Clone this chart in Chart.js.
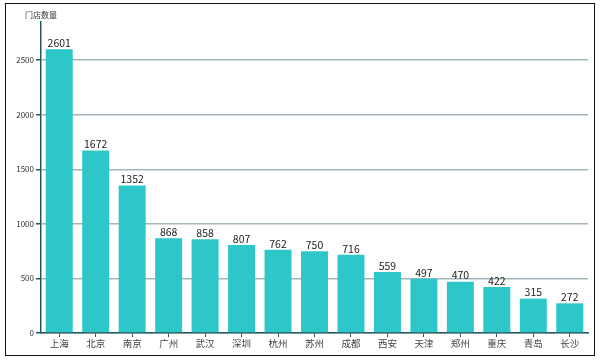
<!DOCTYPE html>
<html>
<head>
<meta charset="utf-8">
<script src="https://cdn.jsdelivr.net/npm/chart.js@4"></script>
<style>
    body { margin: 0; background: #fff; }
    #wrap { position: relative; width: 603px; height: 362px; }
    #frame { position: absolute; left: 5px; top: 3px; width: 590px; height: 353px; border: 1.5px solid #111; box-sizing: border-box; }
    canvas { position: absolute; left: 0; top: 0; }
</style>
</head>
<body>
<div id="wrap">
    <div id="frame"></div>
    <canvas id="storeChart" width="603" height="362"></canvas>
</div>
<script>
const cities = ['上海', '北京', '南京', '广州', '武汉', '深圳', '杭州', '苏州', '成都', '西安', '天津', '郑州', '重庆', '青岛', '长沙'];
const storeCounts = [2601, 1672, 1352, 868, 858, 807, 762, 750, 716, 559, 497, 470, 422, 315, 272];
const yTicks = [0, 500, 1000, 1500, 2000, 2500];

const fontFamily = '"Noto Sans CJK SC", "Noto Sans", sans-serif';
const axisColor = '#24585c';

// value labels above bars + axis name
const barLabels = {
    id: 'barLabels',
    afterDatasetsDraw(chart) {
        const ctx = chart.ctx;
        ctx.save();
        ctx.font = '10.5px ' + fontFamily;
        ctx.fillStyle = '#222';
        ctx.textAlign = 'center';
        ctx.textBaseline = 'bottom';
        chart.getDatasetMeta(0).data.forEach((bar, i) => {
            ctx.fillText(storeCounts[i], bar.x, bar.y - 1);
        });
        ctx.font = '8px ' + fontFamily;
        ctx.fillStyle = '#333';
        ctx.textBaseline = 'middle';
        ctx.fillText('门店数量', chart.chartArea.left, 15);
        ctx.restore();
    }
};

new Chart(document.getElementById('storeChart').getContext('2d'), {
    type: 'bar',
    data: {
        labels: cities,
        datasets: [{
            data: storeCounts,
            backgroundColor: '#2ec7c9',
            barPercentage: 0.74,
            categoryPercentage: 1.0
        }]
    },
    options: {
        responsive: false,
        animation: false,
        layout: { padding: { top: 22, right: 15, left: 0, bottom: 0 } },
        plugins: {
            legend: { display: false },
            tooltip: { enabled: false }
        },
        scales: {
            x: {
                afterFit: scale => { scale.height = 29; },
                grid: { offset: false, drawOnChartArea: false, tickLength: 4, tickColor: axisColor, lineWidth: 1 },
                border: { color: axisColor, width: 1.5 },
                ticks: { color: '#444', font: { family: fontFamily, size: 9.5 }, padding: 1 }
            },
            y: {
                min: 0,
                max: 2850,
                afterFit: scale => { scale.width = 41; },
                afterBuildTicks: scale => { scale.ticks = yTicks.map(v => ({ value: v })); },
                grid: { color: '#a3b5ba', lineWidth: 1.5, tickColor: axisColor, tickLength: 5 },
                border: { color: axisColor, width: 1.5 },
                ticks: {
                    color: '#333',
                    font: { family: fontFamily, size: 8 },
                    padding: 2,
                    includeBounds: false,
                    callback: v => String(v)
                }
            }
        }
    },
    plugins: [barLabels]
});
</script>
</body>
</html>
